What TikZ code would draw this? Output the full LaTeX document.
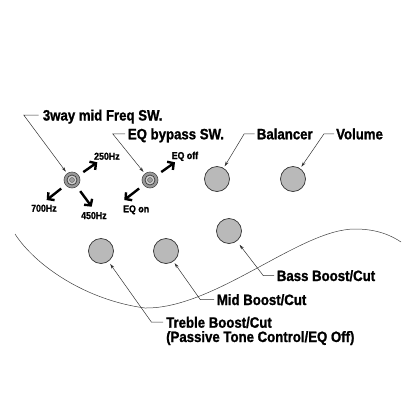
\documentclass[tikz,border=0pt]{standalone}
\usepackage{fontspec}
\usepackage{tikz}
\usetikzlibrary{arrows.meta}
\newfontfamily\lblfont[FakeStretch=0.88, BoldFeatures={FakeBold=1.2}]{Liberation Sans}

\tikzset{
  knob/.style={circle, minimum size=25pt, inner sep=0pt, fill=gray!55, draw=gray!40!black, line width=0.7pt},
  swknob/.style={circle, minimum size=16pt, inner sep=0pt, fill=gray!80, draw=black!70, line width=0.6pt,
    path picture={
      \draw[black!75, fill=gray!35, line width=0.8pt] (path picture bounding box.center) circle (5pt);
      \draw[gray!70!black, fill=gray!75, line width=0.4pt] (path picture bounding box.center) circle (2.5pt);}},
  lbl/.style={anchor=base west, inner sep=0pt, font=\lblfont\bfseries\fontsize{15}{15}\selectfont},
  hzlbl/.style={anchor=base west, inner sep=0pt, font=\lblfont\bfseries\fontsize{10}{12}\selectfont},
  leader/.style={black!80, line width=0.5pt, -{Stealth[length=5pt,width=3pt]}, shorten >=2pt},
  swarrow/.style={line width=2.4pt, -{Straight Barb[length=4.5pt,width=10pt]}, shorten <=5.5pt}
}

\begin{document}
\begin{tikzpicture}[x=1pt, y=-1pt]
    \useasboundingbox (0,0) rectangle (416,416);
    % body edge
    \draw[black!75, line width=0.5pt] (15,234) .. controls (35,265) and (85,300) .. (145,308)
        .. controls (215,309) and (300,229) .. (355,229) .. controls (378,229) and (392,236) .. (401,242);
    % knobs and switches
    \foreach \nm/\x/\y in {kBal/217/179, kVol/293/179, kBass/229/231, kMid/166/251, kTreb/101/251}
        \node[knob] (\nm) at (\x,\y) {};
    \node[swknob] (swFreq) at (72,180) {};
    \node[swknob] (swEQ) at (150,180) {};
    % labels
    \node[lbl] (lblFreq) at (42.7,120.5) {3way mid Freq SW.};
    \node[lbl] (lblEQ) at (127.7,139.3) {EQ bypass SW.};
    \node[lbl] (lblBal) at (256.7,139.3) {Balancer};
    \node[lbl] (lblVol) at (336,139.3) {Volume};
    \node[lbl] (lblBass) at (276.7,281) {Bass Boost/Cut};
    \node[lbl] (lblMid) at (216.7,305) {Mid Boost/Cut};
    \node[lbl] (lblTreb) at (166,327.7) {Treble Boost/Cut};
    \node[lbl] (lblTrebB) at (166,342) {(Passive Tone Control/EQ Off)};
    \node[hzlbl] (hz250) at (94,159.7) {250Hz};
    \node[hzlbl] (hz700) at (31,211.7) {700Hz};
    \node[hzlbl] (hz450) at (81,219) {450Hz};
    \node[hzlbl] (eqOff) at (171.5,159) {EQ off};
    \node[hzlbl] (eqOn) at (123,212.3) {EQ on};
    % leaders
    \draw[leader] ([xshift=-4pt,yshift=5.5pt]lblFreq.base west) -- ++(-15,0) -- (swFreq);
    \draw[leader] ([xshift=-2.5pt,yshift=5.5pt]lblEQ.base west) -- ++(-12.5,0) -- (swEQ);
    \draw[leader] ([xshift=-2pt,yshift=5.5pt]lblBal.base west) -- ++(-10.5,0) -- (kBal);
    \draw[leader] ([xshift=-2pt,yshift=5.5pt]lblVol.base west) -- ++(-10,0) -- (kVol);
    \draw[leader, shorten >=4.5pt] ([xshift=-2.5pt,yshift=5.5pt]lblBass.base west) -- ++(-11,0) -- (kBass);
    \draw[leader] ([xshift=-2.5pt,yshift=5.5pt]lblMid.base west) -- ++(-14,0) -- (kMid);
    \draw[leader, shorten >=3pt] ([xshift=-3pt,yshift=5.5pt]lblTreb.base west) -- ++(-11.5,0) -- (kTreb);
    % switch positions
    \coordinate (t250) at (97.3,162.3);
    \coordinate (t700) at (46.7,200);
    \coordinate (t450) at (91.7,206.7);
    \coordinate (tOff) at (175,162.3);
    \coordinate (tOn) at (124.3,200);
    \draw[swarrow] (swFreq) -- (t250);
    \draw[swarrow] (swFreq) -- (t700);
    \draw[swarrow] (swFreq) -- (t450);
    \draw[swarrow] (swEQ) -- (tOff);
    \draw[swarrow] (swEQ) -- (tOn);
\end{tikzpicture}
\end{document}
